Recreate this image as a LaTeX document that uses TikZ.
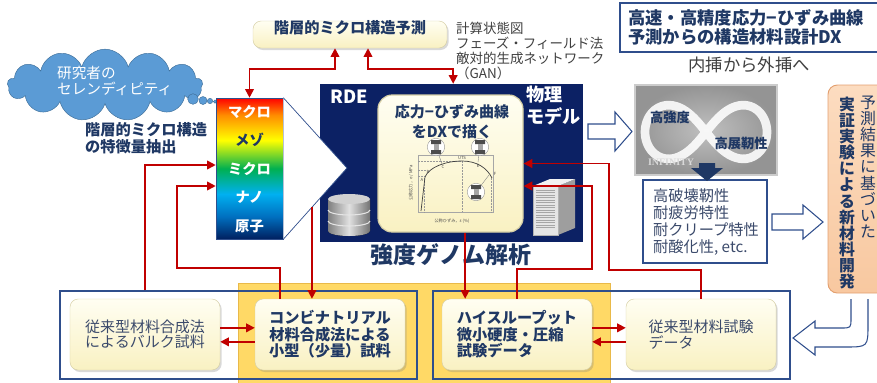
\documentclass[tikz,border=0pt]{standalone}
\usepackage{fontspec}
\setmainfont{Noto Sans CJK JP}
\newfontfamily\latinserif{Liberation Serif}
\usetikzlibrary{arrows.meta,positioning,calc,fit,shapes.symbols,shadows}

\definecolor{navytext}{HTML}{1F3864}
\definecolor{bodytext}{HTML}{3B4A6B}
\definecolor{graytext}{HTML}{404040}
\definecolor{edgeblue}{HTML}{2F4E8C}
\definecolor{rdeblue}{HTML}{0C2164}
\definecolor{darkred}{HTML}{C00000}
\definecolor{gold}{HTML}{FFD966}
\definecolor{goldedge}{HTML}{E9B949}
\definecolor{creamtop}{HTML}{FFFEF2}
\definecolor{creambot}{HTML}{F9F1C2}
\definecolor{creamedge}{HTML}{D6CFA6}
\definecolor{peachtop}{HTML}{FCDCC0}
\definecolor{peachbot}{HTML}{F8C8A0}
\definecolor{peachedge}{HTML}{E3A070}
\definecolor{cloudblue}{HTML}{5B9BD5}
\definecolor{cloudedge}{HTML}{41719C}
\definecolor{rbred}{HTML}{FF0000}
\definecolor{rborange}{HTML}{FF8C00}
\definecolor{rbyellow}{HTML}{FFFF00}
\definecolor{rbgreen}{HTML}{00B050}
\definecolor{rbcyan}{HTML}{00B0F0}
\definecolor{rbblue}{HTML}{0070C0}
\definecolor{rbnavy}{HTML}{002060}

\pgfdeclareverticalshading{rainbowbar}{100bp}{color(0bp)=(rbnavy); color(25bp)=(rbnavy); color(33bp)=(rbblue); color(41bp)=(rbcyan); color(50bp)=(rbgreen); color(60bp)=(rbyellow); color(69bp)=(rborange); color(75bp)=(rbred); color(100bp)=(rbred)}

\newcommand\fsz[2]{\fontsize{#1}{#2}\selectfont}

\begin{document}
\begin{tikzpicture}[x=0.03cm, y=-0.03cm, >={Triangle[length=0.26cm, width=0.26cm]},
  cream/.style={inner sep=0pt, rounded corners=7pt, draw=creamedge, top color=creamtop, bottom color=creambot, drop shadow={opacity=0.3, shadow xshift=0.05cm, shadow yshift=-0.06cm}},
  cbox/.style={cream, minimum width=4.5cm, minimum height=2.13cm},
  frame/.style={inner sep=0pt, draw=edgeblue, line width=0.9pt},
  redln/.style={draw=darkred, line width=1.4pt},
  ttl/.style={text=navytext, font=\bfseries\fsz{13}{14.1}},
  plain/.style={text=bodytext, font=\fsz{12.8}{13.2}},
  hollow/.style={draw=edgeblue, fill=white, line width=0.9pt},
  barlbl/.style={text=white, font=\bfseries\fsz{12.2}{14}},
  specimen/.style={draw=black!45, fill=white, line width=0.3pt},
  tiny/.style={text=black!70, font=\fsz{3.6}{4}, inner sep=0.5pt}]
\useasboundingbox (0,0) rectangle (877,382);
\clip (0,0) rectangle (877,382);

\node[cream, fit={(253,21)(447,48)}, ttl] (pred) {階層的ミクロ構造予測};
\node[anchor=west, align=left, text=graytext, font=\fsz{11.5}{12.8}] (methods) at (452,50.5) {計算状態図\\フェーズ・フィールド法\\敵対的生成ネットワーク\\（GAN）};
\node[frame, fit={(620,3)(890,52)}, line width=1pt, fill=white] (dxbox) {};
\node[anchor=west, align=left, text=navytext, font=\bfseries\fsz{14.8}{16.2}] (dxtitle) at (624,27) {高速・高精度応力−ひずみ曲線\\予測からの構造材料設計DX};
\node[text=graytext, font=\fsz{14.8}{16}] (extrap) at (749,65) {内挿から外挿へ};

\node[cloud, cloud puffs=13, aspect=3.1, inner sep=0pt, minimum width=5.85cm, minimum height=2.15cm, fill=cloudblue, draw=cloudedge] (cloud) at (105,85) {};
\node[anchor=west, align=left, text=white, font=\fsz{12.5}{13.8}] (cloudtxt) at (53,81) {研究者の\\セレンディピティ};
\foreach \cx/\cy/\rad in {193/99/0.16, 203/100.5/0.12, 210/101/0.08, 215/101.5/0.05}
  \filldraw[fill=cloudblue, draw=cloudedge, line width=0.4pt] (\cx,\cy) circle[radius=\rad cm];
\node[anchor=west, align=left, ttl, font=\bfseries\fsz{13}{14.5}] (feat) at (81,138.5) {階層的ミクロ構造\\の特徴量抽出};

\node[inner sep=0pt, fit={(320,84)(583,242)}, fill=rdeblue] (rde) {};
\node[anchor=west, text=white, font=\bfseries\fsz{15.5}{17}] (rdelbl) at (326,97) {RDE};
\node[anchor=west, align=left, text=white, font=\bfseries\fsz{15.5}{18.8}] (physlbl) at (522,106) {物理\\モデル};

\node[inner sep=0pt, fit={(216,98)(283,239)}, shade, shading=rainbowbar, draw=edgeblue, line width=0.5pt] (bar) {};
\coordinate (tip) at (347,168);
\filldraw[fill=white, draw=edgeblue, line width=0.6pt] (bar.north east) -- (tip) -- (bar.south east);
\node[barlbl] (macro) at (249.5,112) {マクロ};
\node[barlbl, text=navytext] (meso) at (249.5,140) {メゾ};
\node[barlbl] (micro) at (249.5,169) {ミクロ};
\node[barlbl] (nano) at (249.5,197) {ナノ};
\node[barlbl] (atom) at (249.5,226) {原子};

\node[inner sep=0pt, fit={(378,95)(523,232)}, rounded corners=12pt, draw=creamedge, line width=1pt, top color=creamtop, bottom color=creambot] (ss) {};
\node[align=center, text=navytext, font=\bfseries\fsz{12.8}{17}] (sstitle) at (452,122) {応力−ひずみ曲線\\をDXで描く};
\draw[black!35, line width=0.3pt] (418,155) rectangle (493,212);
\draw[black!40, line width=0.25pt, densely dotted] (418,161) -- (462,161) (418,170) -- (426,170) (418,176) -- (424,176) (462,161) -- (462,212) (491,178) -- (491,212) (424,178) -- (424,212);
\draw[black!75, line width=0.6pt] (421,211) -- (425,177) .. controls (429,167) and (446,161) .. (462,161) .. controls (477,161) and (487,168) .. (492,178);
\foreach \px/\py/\pt in {462/157.5/UTS, 443/167/C, 478/166/E, 495/174/F, 428/172/B, 422/180/A}
  \node[tiny] (pt-\pt) at (\px,\py) {\pt};
\node[tiny] (xcap) at (452,221) {公称ひずみ，ε (\%)};
\node[tiny, rotate=90] (ycap) at (411,183) {公称応力，σ / MPa};
\foreach \sx/\sy/\lx/\ly in {436/147/442/164, 480/147/478/162, 476/192/489/175} {
  \draw[black!50, line width=0.3pt] (\sx,\sy) -- (\lx,\ly);
  \filldraw[specimen] (\sx,\sy) circle[radius=0.26cm];
  \fill[black!70] (\sx-5,\sy-7) rectangle (\sx+5,\sy-3) (\sx-5,\sy+3) rectangle (\sx+5,\sy+7);
  \fill[black!35] (\sx-2.5,\sy-3) rectangle (\sx+2.5,\sy+3);
}

\fill[left color=black!50, right color=black!55, middle color=black!12] (328,199) -- (328,231) arc[start angle=180, end angle=360, x radius=0.63cm, y radius=0.15cm] -- (370,199) -- cycle;
\fill[black!18] (349,199) ellipse[x radius=0.63cm, y radius=0.15cm];
\foreach \dy in {210,221}
  \draw[white!90!black, line width=0.9pt] (328,\dy) arc[start angle=180, end angle=360, x radius=0.63cm, y radius=0.15cm];

\fill[black!10] (533,186) rectangle (558,235);
\fill[black!38] (558,186) -- (575,179) -- (575,228) -- (558,235) -- cycle;
\fill[black!5] (533,186) -- (550,179) -- (575,179) -- (558,186) -- cycle;
\foreach \vy in {190,192.5,...,228}
  \draw[black!35, line width=0.35pt] (536,\vy) -- (555,\vy);
\draw[black!30, line width=0.3pt] (533,186) rectangle (558,235);

\node[text=navytext, font=\bfseries\fsz{19.6}{22}] (genome) at (451,255) {強度ゲノム解析};

\draw[hollow] (588,124) -- (615,124) -- (615,112) -- (632,131.5) -- (615,151) -- (615,139) -- (588,139) -- cycle;
\node[inner sep=0pt, fit={(635,85)(777,175)}, draw=black!20, line width=2.5pt, inner color=black!25, outer color=black!42] (infbox) {};
\draw[white, line width=0.26cm, opacity=0.88] plot[domain=0:356, samples=90, smooth cycle] ({706+61*cos(\x)/(1+sin(\x)^2)}, {132+76*sin(\x)*cos(\x)/(1+sin(\x)^2)});
\node[text=navytext, font=\bfseries\fsz{11.3}{12}] (strong) at (670,117) {高強度};
\node[text=navytext, font=\bfseries\fsz{11.3}{12}] (tough) at (741,143) {高展靭性};
\node[text=white!85!black, font=\latinserif\bfseries\fsz{8.5}{9}] (infword) at (671,162) {INFINITY};

\node[frame, fit={(643,180)(767,263)}, fill=white] (props) {};
\fill[navytext] (699,163) -- (715,163) -- (715,168) -- (723,168) -- (707,181) -- (691,168) -- (699,168) -- cycle;
\node[anchor=west, align=left, text=bodytext, font=\fsz{13}{14.5}] (proptxt) at (649,222) {高破壊靭性\\耐疲労特性\\耐クリープ特性\\耐酸化性, etc.};
\draw[hollow] (772,214) -- (803,214) -- (803,205) -- (823,222) -- (803,239) -- (803,230) -- (772,230) -- cycle;

\node[inner sep=0pt, fit={(828,85)(900,293)}, rounded corners=8pt, draw=peachedge, line width=0.8pt, top color=peachtop, bottom color=peachbot] (newmat) {};
\node[align=center, text=navytext, font=\bfseries\fsz{13.5}{13.8}] (verify) at (847,193) {実\\証\\実\\験\\に\\よ\\る\\新\\材\\料\\開\\発};
\node[align=center, text=navytext, font=\fsz{13.5}{13.8}] (basis) at (868,167) {予\\測\\結\\果\\に\\基\\づ\\い\\た};
\filldraw[fill=white, draw=edgeblue, line width=0.9pt] (851,299) -- (851,318) .. controls (851,328) .. (841,328) -- (815,328) -- (815,321) -- (793,338) -- (815,355) -- (815,347) -- (845,347) .. controls (868,347) .. (868,324) -- (868,299);

\node[inner sep=0pt, fit={(238,283)(610,395)}, fill=gold, draw=goldedge, line width=0.8pt] (goldzone) {};
\node[frame, fit={(60,291)(417,379)}] (leftgrp) {};
\node[frame, fit={(433,291)(790,379)}] (rightgrp) {};
\node[cbox, plain, align=center] (bulk) at (145,334.5) {従来型材料合成法\\によるバルク試料};
\node[cbox, ttl, align=center] (combi) at (330,334.5) {コンビナトリアル\\材料合成法による\\小型（少量）試料};
\node[cbox, ttl, align=left] (hts) at (517,334.5) {ハイスループット\\微小硬度・圧縮\\試験データ};
\node[cbox, plain, align=left] (conv) at (701,334.5) {従来型材料試験\\データ};

\draw[redln, <->] (bar.north) |- ([xshift=-0.45cm, yshift=-0.63cm]pred.south) -- ([xshift=-0.45cm]pred.south);
\draw[redln, <->] ([xshift=0.54cm]pred.south) -- ([xshift=0.54cm, yshift=-0.63cm]pred.south) -| ([xshift=0.05cm]rde.north);
\draw[redln, ->] ([xshift=-2.805cm]leftgrp.north) |- ([yshift=0.105cm]bar.west);
\draw[redln, ->] ([xshift=-1.5cm]combi.north) -- ++(0,-31) -- ++(-103,0) |- ([yshift=-0.525cm]bar.west);
\coordinate (rdeout) at ($(bar.south east)!0.45!(tip)$);
\draw[redln, ->] (rdeout) -- (rdeout |- combi.north);
\coordinate (ssdown) at ([xshift=0.44cm]ss.south);
\draw[redln, ->] (ssdown) -- (ssdown |- hts.north);
\draw[redln, ->] (hts.north) -- ++(0,-30) -- ++(75,0) |- ([yshift=-0.675cm]ss.east);
\draw[redln, ->] (conv.north) -- ++(0,-29) -- ++(-92,0) |- (ss.east);
\draw[redln, ->] ([yshift=0.2cm]bulk.east) -- ([yshift=0.2cm]combi.west);
\draw[redln, ->] ([yshift=-0.22cm]combi.west) -- ([yshift=-0.22cm]bulk.east);
\draw[redln, ->] ([yshift=0.2cm]hts.east) -- ([yshift=0.2cm]conv.west);
\draw[redln, ->] ([yshift=-0.22cm]conv.west) -- ([yshift=-0.22cm]hts.east);
\end{tikzpicture}
\end{document}
